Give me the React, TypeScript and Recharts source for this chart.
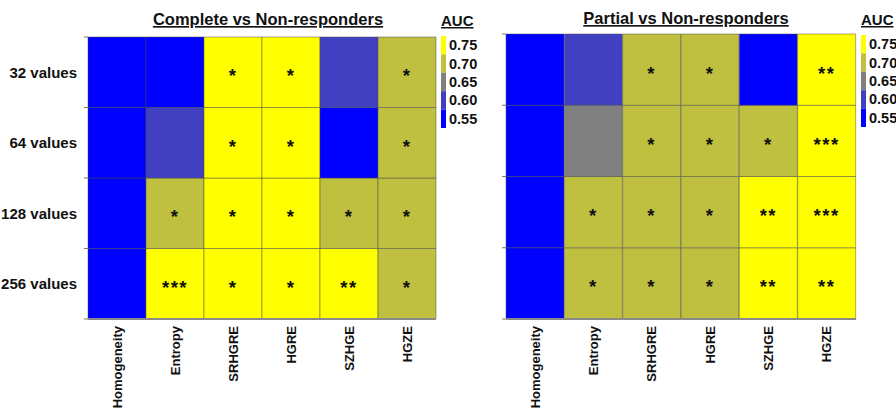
import { BarChart, Bar, XAxis, YAxis, Cell, LabelList } from "recharts";

const features = ["Homogeneity", "Entropy", "SRHGRE", "HGRE", "SZHGE", "HGZE"];
const rowLabels = ["32 values", "64 values", "128 values", "256 values"];
const rowKeys = ["32", "64", "128", "256"];

// AUC per row (32, 64, 128, 256 values), columns follow `features`
const completeAuc = [
  [0.57, 0.57, 0.76, 0.76, 0.62, 0.72],
  [0.57, 0.62, 0.76, 0.76, 0.57, 0.72],
  [0.57, 0.72, 0.76, 0.76, 0.72, 0.72],
  [0.57, 0.76, 0.76, 0.76, 0.76, 0.72],
];
const completeSig = [
  ["", "", "*", "*", "", "*"],
  ["", "", "*", "*", "", "*"],
  ["", "*", "*", "*", "*", "*"],
  ["", "***", "*", "*", "**", "*"],
];

const partialAuc = [
  [0.57, 0.62, 0.72, 0.72, 0.57, 0.76],
  [0.57, 0.67, 0.72, 0.72, 0.72, 0.76],
  [0.57, 0.72, 0.72, 0.72, 0.76, 0.76],
  [0.57, 0.72, 0.72, 0.72, 0.76, 0.76],
];
const partialSig = [
  ["", "", "*", "*", "", "**"],
  ["", "", "*", "*", "*", "***"],
  ["", "*", "*", "*", "**", "***"],
  ["", "*", "*", "*", "**", "**"],
];

const legendLevels = ["0.75", "0.70", "0.65", "0.60", "0.55"];
const legendColors = ["#FFFF00", "#BFBF40", "#808080", "#4040C0", "#0000FF"];

const FONT = "'Liberation Sans', Arial, sans-serif";

const colorFor = (auc: number) => {
  if (auc >= 0.75) return legendColors[0];
  if (auc >= 0.7) return legendColors[1];
  if (auc >= 0.65) return legendColors[2];
  if (auc >= 0.6) return legendColors[3];
  return legendColors[4];
};

const buildRows = (sig: string[][]) =>
  features.map((f, i) => {
    const row: any = { feature: f };
    rowKeys.forEach((k, r) => {
      row["r" + k] = 1;
      row["s" + k] = sig[r][i];
    });
    return row;
  });

const StarLabel = (props: any) => {
  const { x, y, width, height, value } = props;
  if (!value) return null;
  return (
    <text
      x={x + width / 2}
      y={y + height / 2 + 10}
      textAnchor="middle"
      fontFamily={FONT}
      fontWeight="bold"
      fontSize={18.5}
      letterSpacing={1.5}
      fill="#111"
    >
      {value}
    </text>
  );
};

const XTick = (props: any) => {
  const { x, y, payload } = props;
  return (
    <text
      transform={`translate(${x},${y - 1}) rotate(-90)`}
      textAnchor="end"
      dominantBaseline="central"
      fontFamily={FONT}
      fontWeight="bold"
      fontSize={13}
      fill="#111"
    >
      {payload.value}
    </text>
  );
};

type PanelProps = {
  auc: number[][];
  sig: string[][];
  left: number;
  width: number;
  top: number;
  yWidth: number;
  showRows: boolean;
};

const HeatPanel = ({ auc, sig, left, width, top, yWidth, showRows }: PanelProps) => {
  const height = 410;
  const xHeight = 91;
  const rowH = (height - top - xHeight) / 4;
  const data = buildRows(sig);
  // stacked bottom-up: 256 at the bottom, 32 on top
  const order = [3, 2, 1, 0];

  const YTick = (p: any) => {
    const v = p.payload.value;
    if (!showRows || v >= 4) return <g />;
    return (
      <text
        x={p.x - 5}
        y={p.y - rowH / 2}
        textAnchor="end"
        dominantBaseline="central"
        fontFamily={FONT}
        fontWeight="bold"
        fontSize={15}
        fill="#111"
      >
        {rowLabels[3 - v]}
      </text>
    );
  };

  return (
    <div style={{ position: "absolute", left, top: 0 }}>
      <BarChart
        width={width}
        height={height}
        data={data}
        margin={{ top, right: 4, left: 0, bottom: 0 }}
        barCategoryGap={0}
        barGap={0}
      >
        <XAxis
          dataKey="feature"
          type="category"
          height={xHeight}
          tickLine={false}
          axisLine={{ stroke: "#8a8a8a", strokeWidth: 2 }}
          tick={<XTick />}
          interval={0}
        />
        <YAxis
          type="number"
          domain={[0, 4]}
          ticks={[0, 1, 2, 3, 4]}
          width={yWidth}
          axisLine={false}
          tickSize={4}
          tickLine={{ stroke: "#777" }}
          tick={YTick}
        />
        {order.map((r) => (
          <Bar
            key={rowKeys[r]}
            dataKey={"r" + rowKeys[r]}
            stackId="a"
            isAnimationActive={false}
            stroke="#4a4a4a"
            strokeWidth={0.6}
            strokeOpacity={0.8}
          >
            {features.map((f, i) => (
              <Cell key={f} fill={colorFor(auc[r][i])} />
            ))}
            <LabelList dataKey={"s" + rowKeys[r]} content={StarLabel} />
          </Bar>
        ))}
      </BarChart>
    </div>
  );
};

const Legend = ({ x, top }: { x: number; top: number }) => {
  const seg = 18.4;
  return (
    <g fontFamily={FONT} fontWeight="bold">
      <text x={x} y={top - 10} fontSize={15} textDecoration="underline" fill="#111">
        AUC
      </text>
      {legendLevels.map((lv, i) => (
        <g key={lv}>
          <rect x={x} y={top + i * seg} width={5} height={seg} fill={legendColors[i]} />
          <text x={x + 8} y={top + i * seg + seg / 2 + 5} fontSize={14.5} fill="#111">
            {lv}
          </text>
        </g>
      ))}
    </g>
  );
};

export default function App() {
  return (
    <div
      style={{
        position: "fixed",
        left: 0,
        top: 0,
        width: 896,
        height: 410,
        overflow: "hidden",
        background: "#fff",
      }}
    >
      <HeatPanel auc={completeAuc} sig={completeSig} left={0} width={440} top={37} yWidth={88} showRows />
      <HeatPanel auc={partialAuc} sig={partialSig} left={440} width={420} top={34} yWidth={66} showRows={false} />
      <svg
        width={896}
        height={410}
        style={{ position: "absolute", left: 0, top: 0, pointerEvents: "none" }}
      >
        <text
          x={268}
          y={25}
          textAnchor="middle"
          fontFamily={FONT}
          fontWeight="bold"
          fontSize={16.5}
          textDecoration="underline"
          fill="#111"
        >
          Complete vs Non-responders
        </text>
        <text
          x={686}
          y={24}
          textAnchor="middle"
          fontFamily={FONT}
          fontWeight="bold"
          fontSize={16.5}
          textDecoration="underline"
          fill="#111"
        >
          Partial vs Non-responders
        </text>
        <Legend x={441} top={36} />
        <Legend x={861} top={35} />
      </svg>
    </div>
  );
}
